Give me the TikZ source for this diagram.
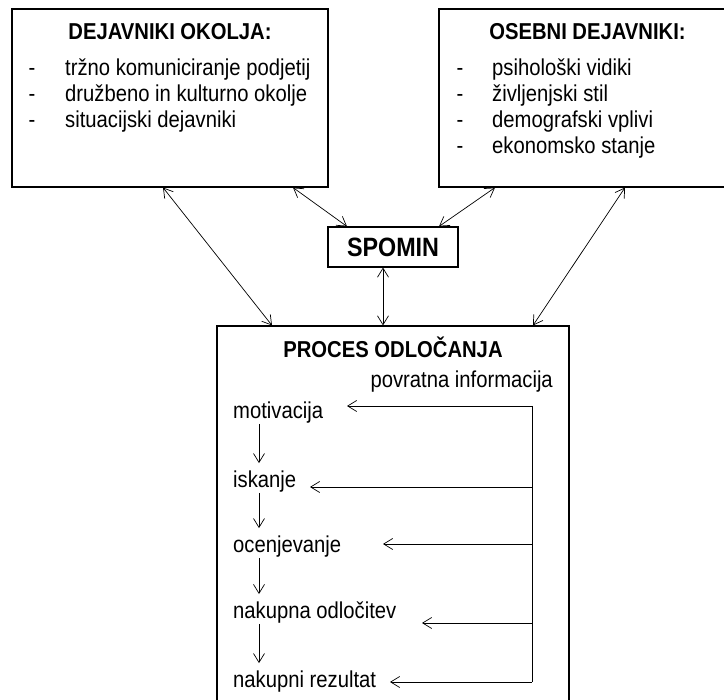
\documentclass[tikz,border=0pt]{standalone}
\usepackage{fontspec}
\setmainfont[FakeStretch=0.88]{Liberation Sans}
\usetikzlibrary{arrows.meta}

\begin{document}
\begin{tikzpicture}[x=1pt,y=-1pt,>={Straight Barb[length=9pt,width=11pt]},
	every node/.style={inner sep=0pt,font=\fontsize{23}{27}\selectfont},
	box/.style={draw,line width=1.1pt},
	title/.style={anchor=base,font=\fontsize{23}{27}\selectfont\bfseries},
	item/.style={anchor=base west},
	bullet/.style={anchor=base},
	link/.style={<->,line width=0.7pt},
	flow/.style={->,line width=0.7pt}]
	\useasboundingbox (0,0) rectangle (724,700);

		 \node[box,minimum width=316pt,minimum height=178pt]	(okolje)	at (170,98)		{};
		 \node[box,minimum width=297pt,minimum height=178pt]	(osebni)	at (587.5,98)	{};
		 \node[box,minimum width=130pt,minimum height=40pt,font=\fontsize{26.5}{30}\selectfont\bfseries]	(spomin)	at (393,247)	{SPOMIN};
		 \node[box,minimum width=352pt,minimum height=379pt]	(proces)	at (393,515.5)	{};

		 % dejavniki okolja
		 \node[title]	(okoljeN)	at (170,40)		{DEJAVNIKI OKOLJA:};
		 \node[bullet]	(od1)		at (32,76)		{-};
		 \node[item]	(o1)		at (65,76)		{tržno komuniciranje podjetij};
		 \node[bullet]	(od2)		at (32,102)		{-};
		 \node[item]	(o2)		at (65,102)		{družbeno in kulturno okolje};
		 \node[bullet]	(od3)		at (32,128)		{-};
		 \node[item]	(o3)		at (65,128)		{situacijski dejavniki};

		 % osebni dejavniki
		 \node[title]	(osebniN)	at (587.5,40)	{OSEBNI DEJAVNIKI:};
		 \node[bullet]	(sd1)		at (460,76)		{-};
		 \node[item]	(s1)		at (492,76)		{psihološki vidiki};
		 \node[bullet]	(sd2)		at (460,102)	{-};
		 \node[item]	(s2)		at (492,102)	{življenjski stil};
		 \node[bullet]	(sd3)		at (460,128)	{-};
		 \node[item]	(s3)		at (492,128)	{demografski vplivi};
		 \node[bullet]	(sd4)		at (460,154)	{-};
		 \node[item]	(s4)		at (492,154)	{ekonomsko stanje};

		 % proces odlocanja
		 \node[title]	(procesN)	at (393,358)	{PROCES ODLOČANJA};
		 \node[anchor=base east]	(povratna)	at (553,388)	{povratna informacija};
		 \node[item]	(mot)		at (233,419)	{motivacija};
		 \node[item]	(isk)		at (233,488)	{iskanje};
		 \node[item]	(oce)		at (233,553)	{ocenjevanje};
		 \node[item]	(nak)		at (233,619)	{nakupna odločitev};
		 \node[item]	(rez)		at (233,688)	{nakupni rezultat};

		 \coordinate	(os)	at (259,0);
		 \coordinate	(fb1)	at (532,406);
		 \coordinate	(fb2)	at (532,487);
		 \coordinate	(fb3)	at (532,544);
		 \coordinate	(fb4)	at (532,623);
		 \coordinate	(fb5)	at (532,682);
		 \coordinate	(t1)	at (347,406);
		 \coordinate	(t2)	at (310,487);
		 \coordinate	(t3)	at (383,544);
		 \coordinate	(t4)	at (422,623);
		 \coordinate	(t5)	at (390,682);

		 \path[link]	([xshift=-7pt]okolje.south)		edge	([xshift=-121pt]proces.north)
		 				([xshift=123pt]okolje.south)	edge	([xshift=-46pt]spomin.north)
						([xshift=-92.5pt]osebni.south)	edge	([xshift=46pt]spomin.north)
						([xshift=37.5pt]osebni.south)	edge	([xshift=140pt]proces.north)
						([xshift=-10pt]spomin.south)	edge	([xshift=-10pt]proces.north);

		\draw	[flow,shorten >=8pt]	(mot.south -| os) -- (isk.north -| os);
		\draw	[flow,shorten >=8pt]	(isk.south -| os) -- (oce.north -| os);
		\draw	[flow,shorten >=8pt]	(oce.south -| os) -- (nak.north -| os);
		\draw	[flow,shorten >=8pt]	(nak.south -| os) -- (rez.north -| os);

		\draw	[line width=0.7pt]	(fb1) -- (fb5);
		\draw	[flow]	(fb1) -- (t1);
		\draw	[flow]	(fb2) -- (t2);
		\draw	[flow]	(fb3) -- (t3);
		\draw	[flow]	(fb4) -- (t4);
		\draw	[flow]	(fb5) -- (t5);
	\end{tikzpicture}
\end{document}
